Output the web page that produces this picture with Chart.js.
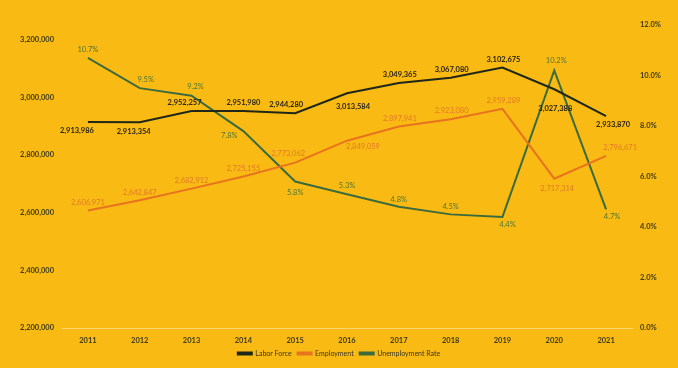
<!DOCTYPE html>
<html><head><meta charset="utf-8">
<script src="https://cdn.jsdelivr.net/npm/chart.js@4"></script>
<style>html,body{margin:0;padding:0;background:#F9BA14;}#wrap{width:678px;height:368px;}</style>
</head><body><div id="wrap"><canvas id="c" width="678" height="368"></canvas></div>
<script>
const years = ['2011','2012','2013','2014','2015','2016','2017','2018','2019','2020','2021'];
const laborForce = [2913986,2913354,2952257,2951980,2944280,3013584,3049365,3067080,3102675,3027388,2933870];
const employment = [2606971,2642847,2682912,2725155,2773062,2849059,2897941,2923080,2959289,2717314,2796671];
const unemploymentRate = [10.7,9.5,9.2,7.8,5.8,5.3,4.8,4.5,4.4,10.2,4.7];
const leftTicks = [2200000,2400000,2600000,2800000,3000000,3200000];
const rightTicks = [0,2,4,6,8,10,12];

const FONT = 'Lato, "Open Sans", sans-serif';
const fmtN = v => v.toLocaleString('en-US');
const fmtP = v => v.toFixed(1) + '%';

const labelPlugin = {
  id: 'pointLabels',
  afterDatasetsDraw(chart) {
    const ctx = chart.ctx;
    chart.data.datasets.forEach((ds, i) => {
      const cfg = ds.pointLabels; if (!cfg) return;
      const meta = chart.getDatasetMeta(i);
      ctx.save();
      ctx.font = cfg.font;
      ctx.fillStyle = cfg.color;
      ctx.textAlign = 'center';
      ctx.textBaseline = 'middle';
      meta.data.forEach((pt, j) => {
        const off = cfg.offsets[j];
        ctx.fillText(cfg.format(ds.data[j]), pt.x + off[0], pt.y + off[1]);
      });
      ctx.restore();
    });
  }
};

new Chart(document.getElementById('c'), {
  type: 'line',
  data: {
    labels: years,
    datasets: [
      { label: 'Labor Force', data: laborForce, yAxisID: 'y', borderColor: '#1E2718', backgroundColor: '#1E2718',
        borderWidth: 2, pointRadius: 0, tension: 0,
        pointLabels: { font: 'bold 7.5px ' + FONT, color: '#231F14', format: fmtN,
          offsets: [[-11,9],[-6,9],[-7,-8],[0,-8],[-9,-9],[6,13],[1,-8],[1,-8],[1,-8],[1,19],[7,8]] } },
      { label: 'Employment', data: employment, yAxisID: 'y', borderColor: '#E8731F', backgroundColor: '#E8731F',
        borderWidth: 2, pointRadius: 0, tension: 0,
        pointLabels: { font: '7.5px ' + FONT, color: '#E27A26', format: fmtN,
          offsets: [[0,-8],[0,-8],[0,-8],[0,-8],[-7,-9],[16,6],[1,-8],[1,-9],[1,-8],[3,10],[14,-8]] } },
      { label: 'Unemployment Rate', data: unemploymentRate, yAxisID: 'y1', borderColor: '#3B6B3C', backgroundColor: '#3B6B3C',
        borderWidth: 2, pointRadius: 0, tension: 0,
        pointLabels: { font: '7.5px ' + FONT, color: '#4A7536', format: fmtP,
          offsets: [[0,-8],[6,-9],[4,-9],[-14,5],[0,11],[0,-9],[0,-7],[0,-8],[5,8],[2,-10],[6,7]] } }
    ]
  },
  options: {
    responsive: false, animation: false,
    layout: { padding: { top: 25, right: 0, bottom: 1, left: 0 } },
    plugins: {
      legend: { position: 'bottom', labels: { boxWidth: 14, boxHeight: 2, padding: 6, color: '#3A3420',
        font: { family: FONT, size: 7 } } },
      tooltip: { enabled: false }
    },
    scales: {
      x: { offset: true, grid: { display: false, drawTicks: false }, border: { display: true, color: '#F6D573', width: 1 },
        ticks: { color: '#3D3A1C', padding: 8, font: { family: FONT, size: 7.5, weight: 'bold' } },
        afterFit(s) { s.height = 16; } },
      y: { position: 'left', min: 2200000, max: 3250000,
        grid: { display: false, drawTicks: false }, border: { display: false },
        afterBuildTicks(s) { s.ticks = leftTicks.map(v => ({ value: v })); },
        ticks: { color: '#3D3A1C', padding: 8, font: { family: FONT, size: 7.5, weight: 'bold' }, callback: v => fmtN(v) },
        afterFit(s) { s.width = 62; } },
      y1: { position: 'right', min: 0, max: 12,
        grid: { display: false, drawTicks: false }, border: { display: false },
        afterBuildTicks(s) { s.ticks = rightTicks.map(v => ({ value: v })); },
        ticks: { color: '#3D3A1C', padding: 8, font: { family: FONT, size: 7.5, weight: 'bold' }, callback: v => fmtP(v) },
        afterFit(s) { s.width = 46; } }
    }
  },
  plugins: [labelPlugin, { id: 'bg', beforeDraw(c) { const x = c.ctx; x.save(); x.fillStyle = '#F9BA14'; x.fillRect(0,0,c.width,c.height); x.restore(); } }]
});
</script></body></html>
